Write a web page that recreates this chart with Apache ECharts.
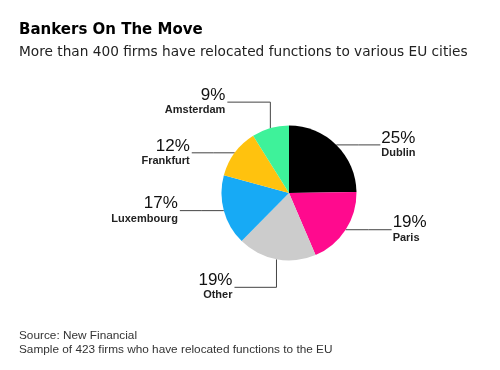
<!DOCTYPE html>
<html>
<head>
<meta charset="utf-8">
<script src="https://cdn.jsdelivr.net/npm/echarts@6/dist/echarts.min.js"></script>
<style>
  html, body { margin: 0; padding: 0; background: #fff; }
  #chart { width: 500px; height: 370px; }
</style>
</head>
<body>
<div id="chart"></div>
<script>
// ---- data ----
const categories = ['Dublin', 'Paris', 'Other', 'Luxembourg', 'Frankfurt', 'Amsterdam'];
const shares = [25, 19, 19, 17, 12, 9];
const sliceColors = ['#000000', '#ff0a8e', '#cccccc', '#17aaf5', '#ffc20e', '#3ef29a'];
const titleText = 'Bankers On The Move';
const subtitleText = 'More than 400 firms have relocated functions to various EU cities';
const footerLines = ['Source: New Financial', 'Sample of 423 firms who have relocated functions to the EU'];

// ---- layout / style ----
const CX = 289, CY = 193, R = 67.5;
// leader line styles per slice: 'h' = horizontal run; 'v' = vertical then horizontal
const leaders = [
  { dir: 'h', len: 44 },
  { dir: 'h', len: 46 },
  { dir: 'v', vlen: 28, hlen: -42 },
  { dir: 'h', len: 44 },
  { dir: 'h', len: 43 },
  { dir: 'v', vlen: -26, hlen: -43 }
];

const total = shares.reduce((a, b) => a + b, 0);
const starts = [];
let cum = 0;
shares.forEach(v => {
  const th = (cum + v / 2) / total * Math.PI * 2;
  starts.push([CX + R * Math.sin(th), CY - R * Math.cos(th)]);
  cum += v;
});

const chart = echarts.init(document.getElementById('chart'), null, { renderer: 'canvas' });
const FONT = '"Liberation Sans", Arial, Helvetica, sans-serif';
const WIDE = '"DejaVu Sans", "Liberation Sans", sans-serif';

chart.setOption({
  animation: false,
  backgroundColor: '#ffffff',
  graphic: [
    { type: 'text', x: 19, y: 30, style: { text: titleText, font: 'bold 15px ' + WIDE, fill: '#000', verticalAlign: 'middle' } },
    { type: 'text', x: 19, y: 52, style: { text: subtitleText, font: '13.7px ' + WIDE, fill: '#222', verticalAlign: 'middle' } },
    { type: 'text', x: 19, y: 336, style: { text: footerLines[0], font: '11.8px ' + FONT, fill: '#333', verticalAlign: 'middle' } },
    { type: 'text', x: 19, y: 350, style: { text: footerLines[1], font: '11.8px ' + FONT, fill: '#333', verticalAlign: 'middle' } }
  ],
  series: [{
    type: 'pie',
    center: [CX, CY],
    radius: [0, R],
    startAngle: 90,
    clockwise: true,
    data: categories.map((name, i) => ({ name, value: shares[i], itemStyle: { color: sliceColors[i] } })),
    itemStyle: { borderWidth: 0 },
    emphasis: { disabled: true },
    label: {
      show: true,
      position: 'outside',
      formatter: '{p|{c}%}\n{n|{b}}',
      fontFamily: FONT,
      rich: {
        p: { fontSize: 17, color: '#111', lineHeight: 16, fontFamily: FONT },
        n: { fontSize: 11, fontWeight: 'bold', color: '#222', lineHeight: 14, fontFamily: FONT }
      }
    },
    labelLine: { show: true, lineStyle: { color: '#444', width: 1 }, smooth: false },
    labelLayout: function (p) {
      const i = p.dataIndex;
      const s = starts[i];
      const L = leaders[i];
      let pts, end;
      if (L.dir === 'h') {
        const sign = s[0] >= CX ? 1 : -1;
        end = [s[0] + sign * L.len, s[1]];
        pts = [s, [(s[0] + end[0]) / 2, s[1]], end];
      } else {
        const corner = [s[0], s[1] + L.vlen];
        end = [s[0] + L.hlen, corner[1]];
        pts = [s, corner, end];
      }
      const right = end[0] > s[0];
      return {
        x: right ? end[0] + 1 : end[0] - 2,
        y: end[1],
        align: right ? 'left' : 'right',
        verticalAlign: 'middle',
        labelLinePoints: pts
      };
    }
  }]
});
</script>
</body>
</html>
